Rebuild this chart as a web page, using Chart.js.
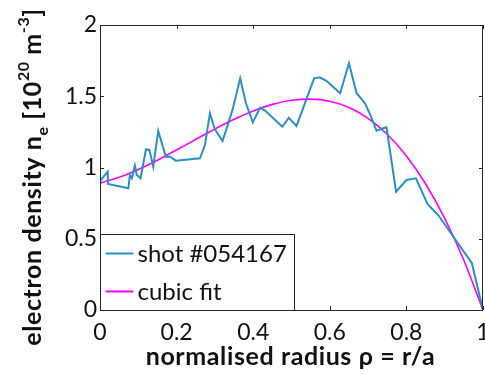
<!DOCTYPE html>
<html>
<head>
<meta charset="utf-8">
<script src="https://cdn.jsdelivr.net/npm/chart.js@4/dist/chart.umd.min.js"></script>
<style>
  html, body { margin: 0; padding: 0; background: #fff; }
  #wrap { width: 485px; height: 374px; }
</style>
</head>
<body>
<div id="wrap"><canvas id="c" width="485" height="374"></canvas></div>
<script>
// Measured electron density profile (normalised radius vs density, 1e20 m^-3)
const shotRho = [0, 0.020, 0.021, 0.074, 0.078, 0.083, 0.091, 0.096, 0.106, 0.120, 0.129, 0.139,
  0.152, 0.172, 0.183, 0.198, 0.261, 0.274, 0.287, 0.300, 0.320, 0.346, 0.366, 0.381, 0.399,
  0.418, 0.431, 0.476, 0.493, 0.513, 0.559, 0.574, 0.592, 0.627, 0.650, 0.670, 0.692, 0.708,
  0.722, 0.739, 0.748, 0.773, 0.800, 0.825, 0.855, 0.884, 0.971, 1.0];
const shotDensity = [0.905, 0.971, 0.884, 0.854, 0.947, 0.924, 1.013, 0.947, 0.924, 1.128, 1.123, 1.006,
  1.256, 1.076, 1.076, 1.048, 1.065, 1.158, 1.380, 1.268, 1.186, 1.404, 1.626, 1.451, 1.317,
  1.420, 1.399, 1.286, 1.349, 1.291, 1.626, 1.633, 1.607, 1.521, 1.731, 1.521, 1.451, 1.356,
  1.258, 1.275, 1.282, 0.830, 0.912, 0.924, 0.744, 0.663, 0.328, 0.0];

// Cubic fit of the profile, sampled every 0.05 in rho
const fitRho = [0, 0.05, 0.10, 0.15, 0.20, 0.25, 0.30, 0.35, 0.40, 0.45, 0.50,
  0.55, 0.60, 0.65, 0.70, 0.75, 0.80, 0.85, 0.90, 0.95, 1.0];
const fitDensity = [0.890, 0.931, 0.986, 1.051, 1.123, 1.197, 1.270, 1.338, 1.397, 1.443, 1.472,
  1.480, 1.465, 1.421, 1.345, 1.233, 1.081, 0.886, 0.643, 0.349, 0.0];

const xTicks = [0, 0.2, 0.4, 0.6, 0.8, 1];
const yTicks = [0, 0.5, 1, 1.5, 2];
const seriesLabels = ['shot #054167', 'cubic fit'];

const FONT = "Lato, 'Open Sans', 'DejaVu Sans', sans-serif";
const INK = '#262626';
const BLUE = '#2a8fc9';
const MAGENTA = '#ff00ff';

const toPoints = (xs, ys) => xs.map((x, i) => ({ x: x, y: ys[i] }));

// Box around the axes with inward tick marks on all four sides
const framePlugin = {
  id: 'frame',
  afterDatasetsDraw(chart) {
    const { ctx, chartArea: a, scales } = chart;
    ctx.save();
    ctx.strokeStyle = INK;
    ctx.lineWidth = 1;
    ctx.beginPath();
    const L = 4;
    xTicks.forEach(v => {
      const px = Math.round(scales.x.getPixelForValue(v)) + 0.5;
      ctx.moveTo(px, a.bottom); ctx.lineTo(px, a.bottom - L);
      ctx.moveTo(px, a.top); ctx.lineTo(px, a.top + L);
    });
    yTicks.forEach(v => {
      const py = Math.round(scales.y.getPixelForValue(v)) + 0.5;
      ctx.moveTo(a.left, py); ctx.lineTo(a.left + L, py);
      ctx.moveTo(a.right, py); ctx.lineTo(a.right - L, py);
    });
    ctx.stroke();
    ctx.strokeRect(Math.round(a.left) + 0.5, Math.round(a.top) + 0.5,
      Math.round(a.right - a.left) - 1, Math.round(a.bottom - a.top));
    ctx.restore();
  }
};

// Legend box in the lower-left corner of the axes
const legendBoxPlugin = {
  id: 'legendBox',
  afterDraw(chart) {
    const { ctx, chartArea: a } = chart;
    const x0 = Math.round(a.left) + 0.5, y1 = Math.round(a.bottom) + 0.5;
    const w = 194, h = 76;
    ctx.save();
    ctx.fillStyle = '#fff';
    ctx.fillRect(x0, y1 - h, w, h);
    ctx.strokeStyle = INK;
    ctx.lineWidth = 1;
    ctx.strokeRect(x0, y1 - h, w, h);
    ctx.font = '24px ' + FONT;
    ctx.textBaseline = 'middle';
    ctx.textAlign = 'left';
    const rows = [y1 - 57, y1 - 19];
    chart.data.datasets.forEach((ds, i) => {
      ctx.strokeStyle = ds.borderColor;
      ctx.lineWidth = 2;
      ctx.beginPath();
      ctx.moveTo(x0 + 5, rows[i]); ctx.lineTo(x0 + 33, rows[i]);
      ctx.stroke();
      ctx.fillStyle = '#111';
      ctx.fillText(ds.label, x0 + 37, rows[i] + 1);
    });
    ctx.restore();
  }
};

// Axis titles, the y title carrying sub- and superscripts
const titlesPlugin = {
  id: 'titles',
  afterDraw(chart) {
    const { ctx, chartArea: a } = chart;
    ctx.save();
    ctx.fillStyle = '#111';
    ctx.textBaseline = 'alphabetic';
    ctx.letterSpacing = '0.6px';
    ctx.font = 'bold 25px ' + FONT;
    ctx.textAlign = 'center';
    ctx.fillText('normalised radius \u03c1 = r/a', (a.left + a.right) / 2 - 1, 365);

    const big = 'bold 25px ' + FONT, small = 'bold 16px ' + FONT;
    const parts = [
      { t: 'electron density n', f: big, dy: 0 },
      { t: 'e', f: small, dy: 7 },
      { t: ' [10', f: big, dy: 0 },
      { t: '20', f: small, dy: -12 },
      { t: ' m', f: big, dy: 0 },
      { t: '-3', f: small, dy: -12 },
      { t: ']', f: big, dy: 0 }
    ];
    let total = 0;
    parts.forEach(p => { ctx.font = p.f; p.w = ctx.measureText(p.t).width; total += p.w; });
    ctx.translate(41, 177);
    ctx.rotate(-Math.PI / 2);
    ctx.textAlign = 'left';
    let cx = -total / 2;
    parts.forEach(p => { ctx.font = p.f; ctx.fillText(p.t, cx, p.dy); cx += p.w; });
    ctx.restore();
  }
};

const fmt = v => String(+v.toFixed(2));

new Chart(document.getElementById('c'), {
  type: 'scatter',
  data: {
    datasets: [
      {
        label: seriesLabels[0],
        data: toPoints(shotRho, shotDensity),
        showLine: true,
        borderColor: BLUE,
        backgroundColor: BLUE,
        borderWidth: 2,
        pointRadius: 0,
        tension: 0
      },
      {
        label: seriesLabels[1],
        data: toPoints(fitRho, fitDensity),
        showLine: true,
        borderColor: MAGENTA,
        backgroundColor: MAGENTA,
        borderWidth: 1.6,
        pointRadius: 0,
        cubicInterpolationMode: 'monotone'
      }
    ]
  },
  options: {
    responsive: false,
    animation: false,
    devicePixelRatio: 1,
    layout: { padding: { top: 25, right: 2, left: 0, bottom: 0 } },
    plugins: { legend: { display: false }, tooltip: { enabled: false } },
    scales: {
      x: {
        type: 'linear', min: 0, max: 1,
        afterBuildTicks: s => { s.ticks = xTicks.map(v => ({ value: v })); },
        afterFit: s => { s.height = 64; s.paddingLeft = 0; s.paddingRight = 0; },
        grid: { display: false, drawTicks: false },
        border: { display: false },
        ticks: { font: { family: FONT, size: 23 }, color: '#111', padding: 9, maxRotation: 0, callback: fmt }
      },
      y: {
        type: 'linear', min: 0, max: 2,
        afterBuildTicks: s => { s.ticks = yTicks.map(v => ({ value: v })); },
        afterFit: s => { s.width = 100; s.paddingTop = 0; s.paddingBottom = 0; },
        grid: { display: false, drawTicks: false },
        border: { display: false },
        ticks: { font: { family: FONT, size: 23 }, color: '#111', padding: 3, callback: fmt }
      }
    }
  },
  plugins: [framePlugin, legendBoxPlugin, titlesPlugin]
});
</script>
</body>
</html>
